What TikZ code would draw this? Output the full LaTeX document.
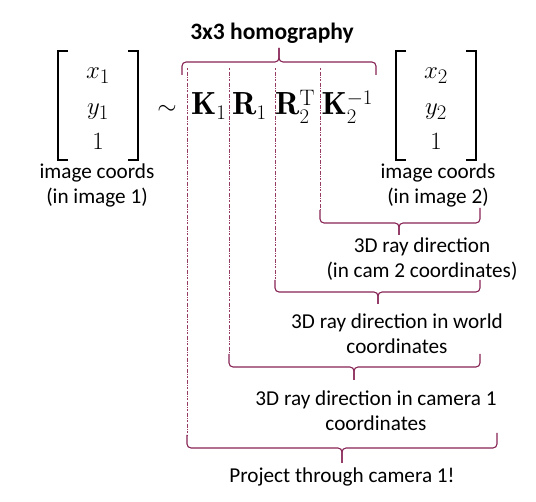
\documentclass[tikz,border=0pt]{standalone}
\usepackage{fontspec}
\setsansfont{Carlito}
\usepackage{amsmath}
\definecolor{bracecol}{RGB}{135,35,85}
\definecolor{dotcol}{RGB}{150,60,100}
\begin{document}
\begin{tikzpicture}[x=1pt,y=-1pt,
  lbl/.style={font=\sffamily\fontsize{21.2}{25}\selectfont, align=center, inner sep=0pt},
  mth/.style={font=\fontsize{32}{38}\selectfont, inner sep=0pt, anchor=base},
  brk/.style={line width=1.4pt},
  brc/.style={draw=bracecol, line width=1.1pt, rounded corners=4pt},
  guide/.style={draw=dotcol, line width=0.7pt, dash pattern=on 2.5pt off 1.2pt on 0.6pt off 1.2pt}]
\useasboundingbox (0,0) rectangle (536,502);
% title
\node[lbl, font=\sffamily\bfseries\fontsize{23.5}{28}\selectfont] (title) at (272,33) {3x3 homography};
% left vector
\draw[brk] (68,51) -- (58,51) -- (58,160) -- (68,160);
\draw[brk] (128,51) -- (138,51) -- (138,160) -- (128,160);
\node[mth] (x1) at (98,79) {$x_1$};
\node[mth] (y1) at (98,115) {$y_1$};
\node[mth] (o1) at (98,150) {$1$};
\node[lbl] (ic1) at (97,185) {image coords\\(in image 1)};
% sim
\node[mth] (sim) at (167,115) {$\sim$};
% factors
\node[mth, anchor=base west] (K1) at (191,115) {$\mathbf{K}_1$};
\node[mth, anchor=base west] (R1) at (232,115) {$\mathbf{R}_1$};
\node[mth, anchor=base west] (R2) at (275,115) {$\mathbf{R}_2^{\mathrm{T}}$};
\node[mth, anchor=base west] (K2) at (321.5,115) {$\mathbf{K}_2^{-1}$};
% right vector
\draw[brk] (406,51) -- (396,51) -- (396,160) -- (406,160);
\draw[brk] (466,51) -- (476,51) -- (476,160) -- (466,160);
\node[mth] (x2) at (436,79) {$x_2$};
\node[mth] (y2) at (436,115) {$y_2$};
\node[mth] (o2) at (436,150) {$1$};
\node[lbl] (ic2) at (438,185) {image coords\\(in image 2)};
% labels
\node[lbl] (l1) at (422,259) {3D ray direction\\(in cam 2 coordinates)};
\node[lbl] (l2) at (397,334) {3D ray direction in world\\coordinates};
\node[lbl] (l3) at (376,411) {3D ray direction in camera 1\\coordinates};
\node[lbl] (l4) at (342,477) {Project through camera 1!};
% top brace
\draw[brc] (182,75) -- (182,62) -- (279,62) -- (279,48);
\draw[brc] (279,48) -- (279,62) -- (376,62) -- (376,75);
% guide lines
\draw[guide] (187,68) -- (187,435);
\draw[guide] (229,68) -- (229,354);
\draw[guide] (275,68) -- (275,280);
\draw[guide] (320,68) -- (320,210);
% bottom braces
\draw[brc] (320,210) -- (320,223) -- (399,223) -- (399,235);
\draw[brc] (399,235) -- (399,223) -- (480,223) -- (480,208);
\draw[brc] (275,280) -- (275,292) -- (378,292) -- (378,304);
\draw[brc] (378,304) -- (378,292) -- (480,292) -- (480,280);
\draw[brc] (229,354) -- (229,367) -- (354,367) -- (354,380);
\draw[brc] (354,380) -- (354,367) -- (480,367) -- (480,354);
\draw[brc] (187,435) -- (187,448) -- (342,448) -- (342,463);
\draw[brc] (342,463) -- (342,448) -- (497,448) -- (497,433);
\end{tikzpicture}
\end{document}
